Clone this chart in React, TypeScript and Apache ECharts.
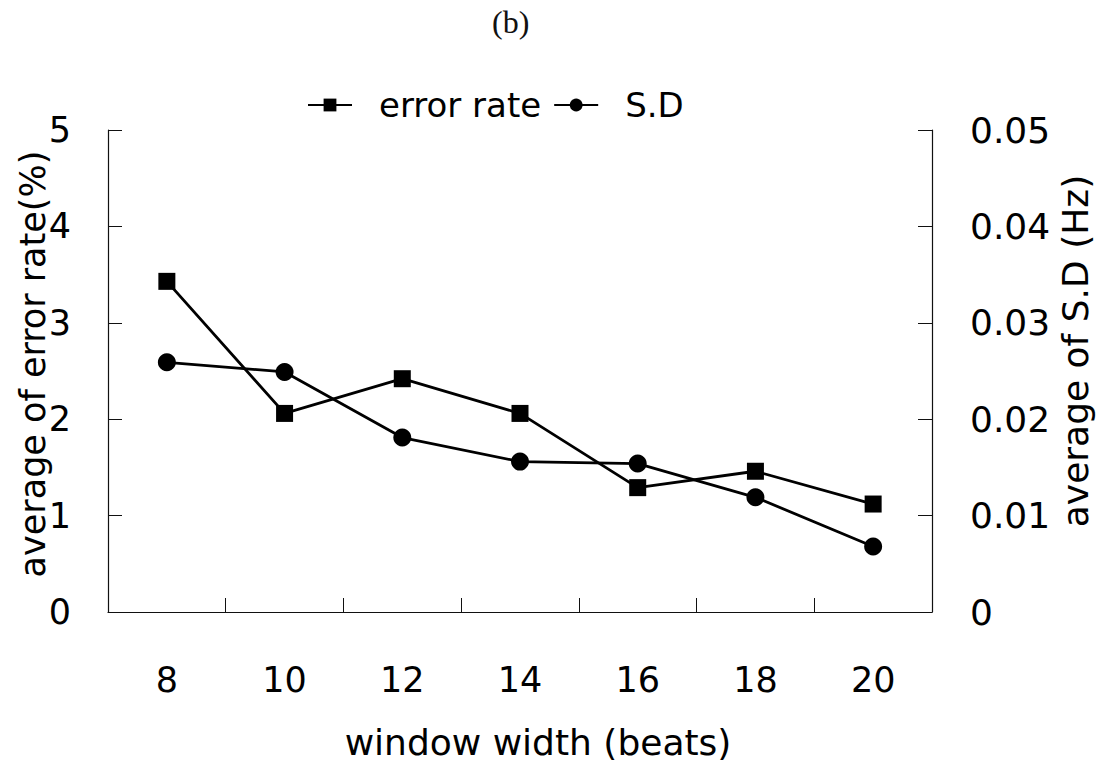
import React, { useEffect, useRef } from "react";
import * as echarts from "echarts";

const categories = ["8", "10", "12", "14", "16", "18", "20"];
const errorRate = [3.43, 2.06, 2.42, 2.06, 1.29, 1.46, 1.12];
const sdValues = [0.0259, 0.0249, 0.0181, 0.0156, 0.0154, 0.0119, 0.0068];
const leftTicks = { min: 0, max: 5, interval: 1 };
const rightTicks = { min: 0, max: 0.05, interval: 0.01 };

const FONT = "DejaVu Sans";

export default function App() {
  const ref = useRef<HTMLDivElement>(null);
  useEffect(() => {
    document.body.style.margin = "0";
    const chart = echarts.init(ref.current!, null, { renderer: "svg" });
    const axisLine = { show: true, lineStyle: { color: "#111", width: 1.2 } };
    chart.setOption({
      animation: false,
      backgroundColor: "#fff",
      graphic: [
        {
          type: "text",
          left: 492,
          top: 6,
          style: { text: "(b)", fontSize: 32, fontFamily: "Liberation Serif", fill: "#111" },
        },
      ],
      legend: {
        top: 83,
        left: 302,
        itemWidth: 44,
        itemHeight: 16,
        itemGap: 12,
        textStyle: { fontFamily: FONT, fontSize: 34, color: "#000", padding: [0, 0, 0, 22] },
        data: ["error rate", "S.D"],
      },
      grid: { left: 108, right: 169, top: 130, bottom: 152, outerBoundsMode: "none", containLabel: false },
      xAxis: {
        type: "category",
        data: categories,
        boundaryGap: true,
        name: "window width (beats)",
        nameLocation: "middle",
        nameGap: 112,
        nameMoveOverlap: false,
        nameTextStyle: { fontFamily: FONT, fontSize: 36, color: "#000", padding: [0, 0, 0, 36] },
        axisLine,
        axisTick: { show: true, inside: true, length: 14, alignWithLabel: false, lineStyle: { color: "#111" } },
        axisLabel: { margin: 50, fontFamily: FONT, fontSize: 35, color: "#000" },
        splitLine: { show: false },
      },
      yAxis: [
        {
          type: "value",
          ...leftTicks,
          position: "left",
          name: "average of error rate(%)",
          nameLocation: "middle",
          nameGap: 58,
          nameMoveOverlap: false,
          nameTextStyle: { fontFamily: FONT, fontSize: 35, color: "#000", padding: [0, 0, 0, 14] },
          axisLine,
          axisTick: { show: true, inside: true, length: 14, lineStyle: { color: "#111" } },
          axisLabel: { margin: 37, fontFamily: FONT, fontSize: 35, color: "#000" },
          splitLine: { show: false },
        },
        {
          type: "value",
          ...rightTicks,
          position: "right",
          name: "average of S.D (Hz)",
          nameLocation: "middle",
          nameGap: 125,
          nameMoveOverlap: false,
          nameTextStyle: { fontFamily: FONT, fontSize: 36, color: "#000", padding: [0, 0, 0, 40] },
          axisLine,
          axisTick: { show: true, inside: true, length: 14, lineStyle: { color: "#111" } },
          axisLabel: {
            margin: 38,
            fontFamily: FONT,
            fontSize: 36,
            color: "#000",
            formatter: (v: number) => (v === 0 ? "0" : v.toFixed(2)),
          },
          splitLine: { show: false },
        },
      ],
      series: [
        {
          name: "error rate",
          type: "line",
          yAxisIndex: 0,
          data: errorRate,
          symbol: "rect",
          symbolSize: 17,
          itemStyle: { color: "#000" },
          lineStyle: { color: "#000", width: 2.8 },
        },
        {
          name: "S.D",
          type: "line",
          yAxisIndex: 1,
          data: sdValues,
          symbol: "circle",
          symbolSize: 18,
          itemStyle: { color: "#000" },
          lineStyle: { color: "#000", width: 2.8 },
        },
      ],
    });
    return () => chart.dispose();
  }, []);
  return <div ref={ref} style={{ width: 1101, height: 764 }} />;
}
